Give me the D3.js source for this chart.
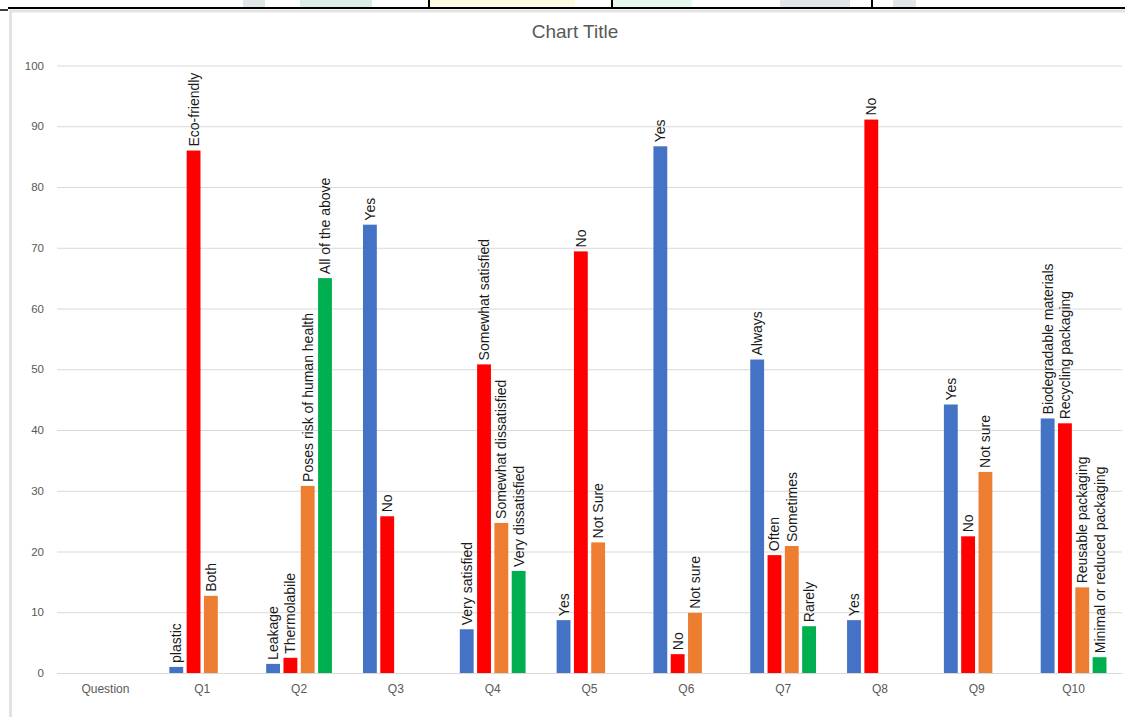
<!DOCTYPE html>
<html>
<head>
<meta charset="utf-8">
<script src="https://cdn.jsdelivr.net/npm/d3@7"></script>
<style>
  html, body { margin: 0; padding: 0; background: #fff; }
  svg { display: block; }
</style>
</head>
<body>
<svg id="chart" width="1125" height="717"></svg>
<script>
// ---- data ----
const categories = ["Question", "Q1", "Q2", "Q3", "Q4", "Q5", "Q6", "Q7", "Q8", "Q9", "Q10"];
const seriesKeys = ["s1", "s2", "s3", "s4"];
const seriesColors = ["#4472C4", "#FF0000", "#ED7D31", "#00B050"];
const s1Values = [null, 1.0, 1.5, 73.8, 7.2, 8.7, 86.7, 51.6, 8.7, 44.2, 41.9];
const s2Values = [null, 86.0, 2.5, 25.8, 50.8, 69.4, 3.1, 19.4, 91.1, 22.5, 41.1];
const s3Values = [null, 12.7, 30.8, null, 24.7, 21.5, 9.9, 20.9, null, 33.1, 14.1];
const s4Values = [null, null, 65.0, null, 16.8, null, null, 7.7, null, null, 2.6];
const s1Labels = ["", "plastic", "Leakage", "Yes", "Very satisfied", "Yes", "Yes", "Always", "Yes", "Yes", "Biodegradable materials"];
const s2Labels = ["", "Eco-friendly", "Thermolabile", "No", "Somewhat satisfied", "No", "No", "Often", "No", "No", "Recycling packaging"];
const s3Labels = ["", "Both", "Poses risk of human health", "", "Somewhat dissatisfied", "Not Sure", "Not sure", "Sometimes", "", "Not sure", "Reusable packaging"];
const s4Labels = ["", "", "All of the above", "", "Very dissatisfied", "", "", "Rarely", "", "", "Minimal or reduced packaging"];
const yTicks = [0, 10, 20, 30, 40, 50, 60, 70, 80, 90, 100];
const chartTitle = "Chart Title";

const seriesValues = [s1Values, s2Values, s3Values, s4Values];
const seriesLabels = [s1Labels, s2Labels, s3Labels, s4Labels];

const svg = d3.select("#chart");
const font = "'Liberation Sans', Arial, sans-serif";

// ---- page decorations (table strip above the chart) ----
const strip = [
  {x: 243, w: 22, c: "#dfe7e9"},
  {x: 300, w: 72, c: "#dbece8"},
  {x: 430, w: 145, c: "#fffbe2"},
  {x: 612, w: 80, c: "#e6faec"},
  {x: 780, w: 70, c: "#dfe6e8"},
  {x: 893, w: 23, c: "#dfe6e8"}
];
svg.selectAll("rect.strip").data(strip).join("rect")
  .attr("x", d => d.x).attr("y", 0).attr("width", d => d.w).attr("height", 8)
  .attr("fill", d => d.c);
svg.append("line").attr("x1", 8).attr("x2", 1125).attr("y1", 8).attr("y2", 8)
  .attr("stroke", "#000").attr("stroke-width", 2);
svg.append("line").attr("x1", 0).attr("x2", 8).attr("y1", 10).attr("y2", 10)
  .attr("stroke", "#000").attr("stroke-width", 1.5);
[429, 612, 872].forEach(x => {
  svg.append("line").attr("x1", x).attr("x2", x).attr("y1", 0).attr("y2", 8)
    .attr("stroke", "#000").attr("stroke-width", 2);
});
// chart area border
svg.append("rect").attr("x", 10.5).attr("y", 11).attr("width", 1125).attr("height", 720)
  .attr("fill", "#fff").attr("stroke", "#e3e3e3").attr("stroke-width", 3);

// ---- scales ----
const plotLeft = 57, plotRight = 1122, y0px = 673, y100px = 65.5;
const x0 = d3.scaleBand().domain(categories).range([plotLeft, plotRight]).paddingInner(0.285).paddingOuter(0.1425);
const x1 = d3.scaleBand().domain(seriesKeys).range([0, x0.bandwidth()]).paddingInner(0.2).paddingOuter(0.1);
const y = d3.scaleLinear().domain([0, 100]).range([y0px, y100px]);

// ---- gridlines ----
const yAxis = d3.axisLeft(y).tickValues(yTicks).tickSize(-(plotRight - plotLeft)).tickPadding(13);
const gy = svg.append("g").attr("transform", `translate(${plotLeft},0)`).call(yAxis);
gy.select(".domain").remove();
gy.selectAll(".tick line").attr("stroke", "#d9d9d9").attr("stroke-width", 1);
gy.selectAll(".tick text").attr("fill", "#595959").attr("font-family", font).attr("font-size", "11.5px");

// ---- x axis ----
const xAxis = d3.axisBottom(x0).tickSize(0).tickPadding(11);
const gx = svg.append("g").attr("transform", `translate(0,${y0px})`).call(xAxis);
gx.select(".domain").attr("stroke", "#d9d9d9");
gx.selectAll(".tick text").attr("fill", "#595959").attr("font-family", font).attr("font-size", "12px");

// ---- bars ----
const barData = [];
categories.forEach((cat, i) => {
  seriesKeys.forEach((k, j) => {
    const v = seriesValues[j][i];
    if (v !== null && v !== undefined) {
      barData.push({cat, key: k, v, color: seriesColors[j], label: seriesLabels[j][i]});
    }
  });
});

svg.append("g").selectAll("rect").data(barData).join("rect")
  .attr("x", d => x0(d.cat) + x1(d.key))
  .attr("y", d => y(d.v))
  .attr("width", x1.bandwidth())
  .attr("height", d => y(0) - y(d.v))
  .attr("fill", d => d.color);

svg.append("g").selectAll("text").data(barData.filter(d => d.label)).join("text")
  .attr("transform", d => `translate(${x0(d.cat) + x1(d.key) + x1.bandwidth() / 2},${y(d.v) - 4}) rotate(-90)`)
  .attr("text-anchor", "start")
  .attr("dominant-baseline", "central")
  .attr("font-family", font)
  .attr("font-size", "14px")
  .attr("fill", "#1a1a1a")
  .text(d => d.label);

// ---- title ----
svg.append("text").attr("x", 575).attr("y", 38).attr("text-anchor", "middle")
  .attr("font-family", font).attr("font-size", "19px").attr("fill", "#595959")
  .text(chartTitle);
</script>
</body>
</html>
